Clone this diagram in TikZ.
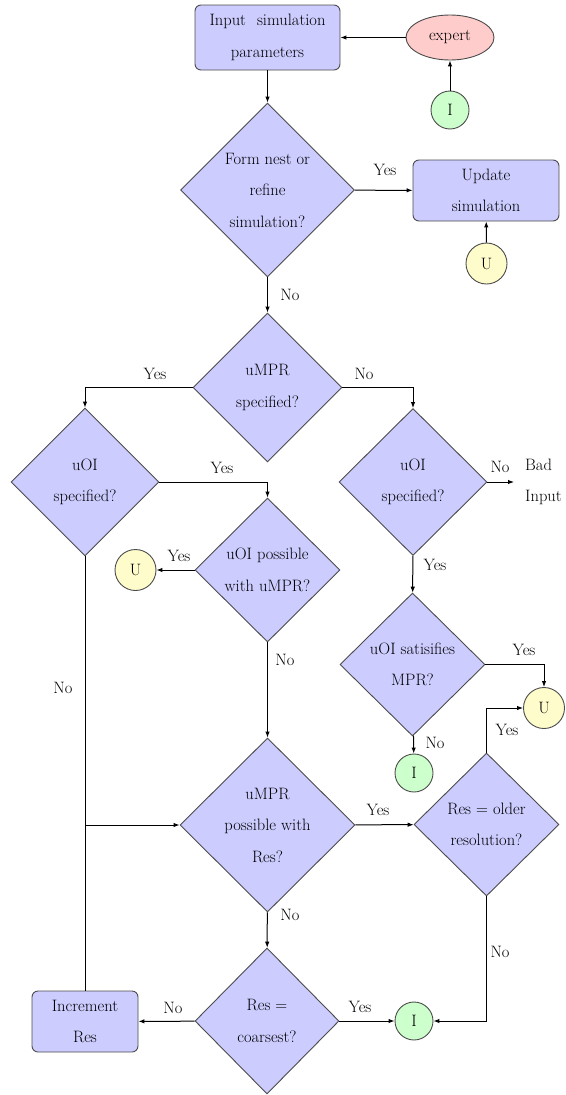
\documentclass[tikz,border=0pt]{standalone}
\usepackage{fontspec}
\usetikzlibrary{shapes.geometric,arrows.meta}
\begin{document}
\begin{tikzpicture}[x=1pt,y=-1pt,
 every node/.style={font=\rmfamily\fontsize{16.5}{31.5}\selectfont\addfontfeatures{FakeBold=0.6}},
 decision/.style={diamond, draw=black!70, fill=blue!20, line width=0.9pt, align=center, inner sep=0pt, aspect=1},
 block/.style={rectangle, rounded corners=6pt, draw=black!70, fill=blue!20, line width=0.9pt, align=center, inner sep=0pt},
 cloud/.style={ellipse, draw=black!70, fill=red!20, line width=0.9pt, inner sep=0pt},
 inode/.style={circle, draw=black!70, fill=green!20, line width=0.9pt, inner sep=0pt, minimum size=38pt},
 unode/.style={circle, draw=black!70, fill=yellow!20, line width=0.9pt, inner sep=0pt, minimum size=41pt},
 arr/.style={-{Latex[length=6pt,width=4.5pt]}, line width=1pt},
 plain/.style={line width=1pt},
 lbl/.style={inner sep=0pt}
]
\useasboundingbox (0,0) rectangle (565,1095);

% nodes
\node[block, minimum width=145pt, minimum height=65pt] (input) at (267.5,37.5) {Input\hspace{6pt} simulation\\parameters};
\node[cloud, minimum width=88pt, minimum height=45pt] (expert) at (450,37.5) {expert};
\node[inode] (i1) at (450,110) {I};
\node[decision, minimum width=174pt, minimum height=174pt] (d1) at (267.5,190) {Form nest or\\refine\\simulation?};
\node[block, minimum width=146pt, minimum height=61pt] (update) at (486,190.5) {Update\\simulation};
\node[unode] (u1) at (486.5,263.5) {U};
\node[decision, minimum width=149pt, minimum height=149pt] (d2) at (267.5,387.5) {uMPR\\specified?};
\node[decision, minimum width=148pt, minimum height=148pt] (d3) at (85,482) {uOI\\specified?};
\node[decision, minimum width=148pt, minimum height=147pt] (d4) at (413,482) {uOI\\specified?};
\node[lbl, anchor=west, align=left] (bad) at (525,482) {Bad\\Input};
\node[decision, minimum width=145pt, minimum height=144pt] (d5) at (267.5,570) {uOI possible\\with uMPR?};
\node[unode] (u2) at (135.5,570) {U};
\node[decision, minimum width=145pt, minimum height=143pt] (d6) at (412.5,664.5) {uOI satisifies\\MPR?};
\node[unode] (u3) at (544,708) {U};
\node[inode] (i2) at (414,773) {I};
\node[decision, minimum width=175pt, minimum height=174pt] (d7) at (267.5,825) {uMPR\\possible with\\Res?};
\node[decision, minimum width=145pt, minimum height=143pt] (d8) at (486.5,824.5) {Res = older\\resolution?};
\node[decision, minimum width=144pt, minimum height=146pt] (d9) at (267,1021) {Res =\\coarsest?};
\node[inode] (i3) at (414,1021) {I};
\node[block, minimum width=106pt, minimum height=61pt] (inc) at (85,1021.5) {Increment\\Res};

% connectors
\draw[arr] (i1) -- (expert);
\draw[arr] (expert) -- (input);
\draw[arr] (input) -- (d1);
\draw[arr] (d1) -- (update);
\draw[arr] (u1) -- (update);
\draw[arr] (d1) -- (d2);
\draw[arr] (d2.west) -| (d3.north);
\draw[arr] (d2.east) -| (d4.north);
\draw[arr] (d3.east) -| (d5.north);
\draw[plain] (d3.south) -- (d3.south |- d7.west);
\draw[arr] (inc.north) |- (d7.west);
\draw[arr] (d4.east) -- ([xshift=-11pt]bad.west);
\draw[arr] (d4) -- (d6);
\draw[arr] (d5) -- (u2);
\draw[arr] (d5) -- (d7);
\draw[arr] (d6.east) -| (u3.north);
\draw[arr] (d6) -- (i2);
\draw[arr] (d7) -- (d8);
\draw[arr] (d7) -- (d9);
\draw[arr] (d8.north) |- (u3.west);
\draw[arr] (d8.south) |- (i3.east);
\draw[arr] (d9) -- (i3);
\draw[arr] (d9) -- (inc);

% labels
\node[lbl] (l1) at (385,170) {Yes};
\node[lbl] (l2) at (290,295) {No};
\node[lbl] (l3) at (155,374) {Yes};
\node[lbl] (l4) at (364,374) {No};
\node[lbl] (l5) at (222,468) {Yes};
\node[lbl] (l6) at (63,688) {No};
\node[lbl] (l7) at (500,467) {No};
\node[lbl] (l8) at (435,565) {Yes};
\node[lbl] (l9) at (179,556) {Yes};
\node[lbl] (l10) at (285,660) {No};
\node[lbl] (l11) at (524,650) {Yes};
\node[lbl] (l12) at (435,743) {No};
\node[lbl] (l13) at (378,810) {Yes};
\node[lbl] (l14) at (290,915) {No};
\node[lbl] (l15) at (507,730) {Yes};
\node[lbl] (l16) at (500,952) {No};
\node[lbl] (l17) at (360,1007) {Yes};
\node[lbl] (l18) at (173,1008) {No};
\end{tikzpicture}
\end{document}
